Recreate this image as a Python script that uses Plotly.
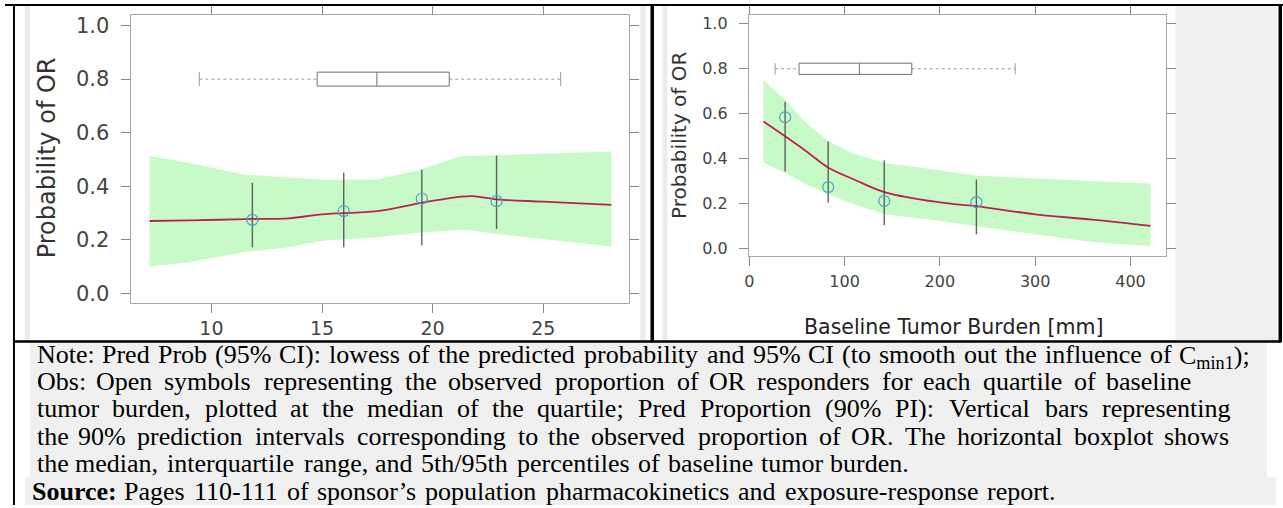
import re
import plotly.graph_objects as go

W, H = 1283, 508


def fx(px):
    return px / W


def fy(py):
    return 1 - py / H


# ---------------- data ----------------
# Left panel
L_grid = [7.2, 9.0, 11.5, 13.5, 15.0, 17.5, 19.5, 21.2, 21.8, 22.9, 25.0, 28.08]
L_upper = [0.514, 0.487, 0.443, 0.431, 0.424, 0.425, 0.462, 0.511, 0.514, 0.516, 0.522, 0.530]
L_lower = [0.100, 0.116, 0.154, 0.172, 0.196, 0.209, 0.227, 0.237, 0.234, 0.221, 0.203, 0.175]
L_mean = [0.270, 0.272, 0.277, 0.280, 0.295, 0.307, 0.338, 0.360, 0.363, 0.351, 0.342, 0.330]
L_obs_x = [11.85, 15.98, 19.51, 22.89]
L_obs_y = [0.274, 0.307, 0.354, 0.344]
L_pi_lo = [0.172, 0.172, 0.178, 0.240]
L_pi_hi = [0.413, 0.450, 0.462, 0.515]
L_box = [9.45, 14.78, 17.48, 20.75, 25.79]  # 5th, Q1, median, Q3, 95th
L_xticks = [10, 15, 20, 25]

# Right panel
R_grid = [14.9, 38, 60, 83.5, 110, 142.6, 200, 238, 300, 360, 421]
R_upper = [0.749, 0.660, 0.557, 0.476, 0.420, 0.380, 0.348, 0.325, 0.311, 0.299, 0.289]
R_lower = [0.380, 0.336, 0.285, 0.240, 0.196, 0.152, 0.122, 0.100, 0.063, 0.029, 0.010]
R_mean = [0.565, 0.498, 0.432, 0.358, 0.307, 0.250, 0.205, 0.188, 0.152, 0.128, 0.100]
R_obs_x = [37.6, 82.8, 141.6, 238.3]
R_obs_y = [0.584, 0.273, 0.211, 0.206]
R_pi_lo = [0.343, 0.204, 0.103, 0.063]
R_pi_hi = [0.653, 0.476, 0.392, 0.307]
R_box = [27.1, 52.2, 115.5, 170.5, 279.0]
R_xticks = [0, 100, 200, 300, 400]

Y_TICKS = [0.0, 0.2, 0.4, 0.6, 0.8, 1.0]
BOX_Y = 0.8

Y_TITLE = "Probability of OR"
X_TITLE_R = "Baseline Tumor Burden [mm]"

NOTE_LINES = [
    "Note: Pred Prob (95% CI): lowess of the predicted probability and 95% CI (to smooth out the influence of C<sub>min1</sub>);",
    "Obs: Open symbols representing the observed proportion of OR responders for each quartile of baseline",
    "tumor burden, plotted at the median of the quartile; Pred Proportion (90% PI): Vertical bars representing",
    "the 90% prediction intervals corresponding to the observed proportion of OR. The horizontal boxplot shows",
    "the median, interquartile range, and 5th/95th percentiles of baseline tumor burden.",
]
SOURCE_LINE = "<b>Source:</b> Pages 110-111 of sponsor\u2019s population pharmacokinetics and exposure-response report."

# ---------------- styling ----------------
BAND = "rgb(200,250,200)"
MEAN = "#b8234f"
OBS = "#4f9fcf"
BAR = "rgba(70,70,70,0.85)"
BOXC = "#707070"
WHISK = "#9a9a9a"
SANS = "DejaVu Sans"
SERIF = "Liberation Serif"

fig = go.Figure()


def add_panel(xa, ya, grid, up, lo, mean, ox, oy, plo, phi, box, box_h):
    fig.add_trace(go.Scatter(x=grid + grid[::-1], y=up + lo[::-1], fill="toself",
                             fillcolor=BAND, line=dict(width=0), mode="lines",
                             hoverinfo="skip", xaxis=xa, yaxis=ya, showlegend=False))
    fig.add_trace(go.Scatter(x=grid, y=mean, mode="lines", line=dict(color=MEAN, width=1.8, shape="spline"),
                             xaxis=xa, yaxis=ya, showlegend=False))
    fig.add_trace(go.Scatter(
        x=ox, y=oy, mode="markers",
        marker=dict(symbol="circle-open", size=11, color=OBS, line=dict(width=1.2, color=OBS)),
        error_y=dict(type="data", symmetric=False,
                     array=[h - y for h, y in zip(phi, oy)],
                     arrayminus=[y - l for l, y in zip(plo, oy)],
                     width=0, color=BAR, thickness=1.4),
        xaxis=xa, yaxis=ya, showlegend=False))
    p5, q1, med, q3, p95 = box
    fig.add_trace(go.Scatter(x=[p5, q1, None, q3, p95], y=[BOX_Y, BOX_Y, None, BOX_Y, BOX_Y],
                             mode="lines", line=dict(color=WHISK, width=1, dash="dot"),
                             xaxis=xa, yaxis=ya, showlegend=False))
    fig.add_trace(go.Scatter(x=[p5, p5, None, p95, p95],
                             y=[BOX_Y - box_h, BOX_Y + box_h, None, BOX_Y - box_h, BOX_Y + box_h],
                             mode="lines", line=dict(color=WHISK, width=1),
                             xaxis=xa, yaxis=ya, showlegend=False))
    fig.add_trace(go.Scatter(x=[q1, q3, q3, q1, q1, None, med, med],
                             y=[BOX_Y - box_h, BOX_Y - box_h, BOX_Y + box_h, BOX_Y + box_h, BOX_Y - box_h,
                                None, BOX_Y - box_h, BOX_Y + box_h],
                             mode="lines", line=dict(color=BOXC, width=1),
                             xaxis=xa, yaxis=ya, showlegend=False))


add_panel("x", "y", L_grid, L_upper, L_lower, L_mean, L_obs_x, L_obs_y, L_pi_lo, L_pi_hi, L_box, 0.026)
add_panel("x2", "y2", R_grid, R_upper, R_lower, R_mean, R_obs_x, R_obs_y, R_pi_lo, R_pi_hi, R_box, 0.025)

axis_common = dict(showline=True, linecolor="#a8a8a8", linewidth=1, mirror="ticks",
                   ticks="outside", tickcolor="#8a8a8a", tickwidth=1,
                   showgrid=False, zeroline=False, fixedrange=True)

fig.update_layout(
    width=W, height=H,
    margin=dict(l=0, r=0, t=0, b=0),
    paper_bgcolor="white", plot_bgcolor="white",
    showlegend=False,
    xaxis=dict(domain=[fx(126), fx(626.7)], anchor="y", range=[6.34, 28.89],
               tickvals=L_xticks, ticklen=9, ticklabelstandoff=0,
               tickfont=dict(family=SANS, size=19, color="#444"), **axis_common),
    yaxis=dict(domain=[fy(304), fy(14)], anchor="x", range=[-0.035, 1.04],
               tickvals=Y_TICKS, tickformat=".1f", ticklen=9, ticklabelstandoff=7,
               tickfont=dict(family=SANS, size=21, color="#444"), **axis_common),
    xaxis2=dict(domain=[fx(746.7), fx(1166)], anchor="y2", range=[-0.5, 437.7],
                tickvals=R_xticks, ticklen=9, ticklabelstandoff=2,
                tickfont=dict(family=SANS, size=16, color="#444"), **axis_common),
    yaxis2=dict(domain=[fy(257.3), fy(14)], anchor="x2", range=[-0.035, 1.04],
                tickvals=Y_TICKS, tickformat=".1f", ticklen=9, ticklabelstandoff=8,
                tickfont=dict(family=SANS, size=16, color="#444"), **axis_common),
)

shapes = []


def rect(x0, y0, x1, y1, color, layer="below"):
    shapes.append(dict(type="rect", xref="paper", yref="paper", x0=fx(x0), x1=fx(x1),
                       y0=fy(y1), y1=fy(y0), fillcolor=color, line=dict(width=0), layer=layer))


rect(20, 4, 25, 343, "#ebebeb")
rect(638, 4, 643, 343, "#ebebeb")
rect(660, 4, 665, 343, "#ebebeb")
rect(1175, 4, 1277, 343, "#f0f0f0")
rect(10, 344, 1283, 508, "white", layer="above")
rect(25, 344, 1266.7, 480, "#f0f0f0", layer="above")
rect(20, 480, 1276, 508, "#f0f0f0", layer="above")
rect(0, 3, 1283, 5, "black", layer="above")
rect(8, 3, 10, 508, "black", layer="above")
rect(8, 342, 1281, 344.5, "black", layer="above")
rect(648, 3, 651.5, 344, "black", layer="above")
rect(1278.5, 3, 1282, 344, "black", layer="above")
fig.update_layout(shapes=shapes)

ann = []
ann.append(dict(text=Y_TITLE, x=fx(41.7), y=fy(158), xref="paper", yref="paper", showarrow=False,
                xanchor="center", yanchor="middle",
                textangle=-90, font=dict(family=SANS, size=24, color="#333")))
ann.append(dict(text=Y_TITLE, x=fx(676.7), y=fy(136), xref="paper", yref="paper", showarrow=False,
                xanchor="center", yanchor="middle",
                textangle=-90, font=dict(family=SANS, size=20, color="#333")))
ann.append(dict(text=X_TITLE_R, x=fx(952), y=fy(329), xref="paper", yref="paper", showarrow=False,
                xanchor="center", yanchor="middle",
                font=dict(family=SANS, size=20.5, color="#222")))

# ---------------- justified note text (word placement with Times metrics) ----------------
TW = {' ': 250, '!': 333, '%': 833, '(': 333, ')': 333, ',': 250, '-': 333, '.': 250, '/': 278,
      ':': 278, ';': 278, '\u2019': 333, "'": 333}
for d in '0123456789':
    TW[d] = 500
TW.update({'A': 722, 'B': 667, 'C': 667, 'D': 722, 'E': 611, 'F': 556, 'G': 722, 'H': 722, 'I': 333,
           'J': 389, 'K': 722, 'L': 611, 'M': 889, 'N': 722, 'O': 722, 'P': 556, 'Q': 722, 'R': 667,
           'S': 556, 'T': 611, 'U': 722, 'V': 722, 'W': 944, 'X': 722, 'Y': 722, 'Z': 611,
           'a': 444, 'b': 500, 'c': 444, 'd': 500, 'e': 444, 'f': 333, 'g': 500, 'h': 500, 'i': 278,
           'j': 278, 'k': 500, 'l': 278, 'm': 778, 'n': 500, 'o': 500, 'p': 500, 'q': 500, 'r': 333,
           's': 389, 't': 278, 'u': 500, 'v': 500, 'w': 722, 'x': 500, 'y': 500, 'z': 444})
TWB = {'S': 556, 'o': 500, 'u': 556, 'r': 444, 'c': 444, 'e': 444, ':': 333}


def word_width(word):
    total = 0.0
    for m in re.finditer(r"<sub>(.*?)</sub>|<b>(.*?)</b>|([^<]+)", word):
        if m.group(1) is not None:
            total += 0.7 * sum(TW.get(c, 500) for c in m.group(1))
        elif m.group(2) is not None:
            total += sum(TWB.get(c, TW.get(c, 500)) for c in m.group(2))
        else:
            total += sum(TW.get(c, 500) for c in m.group(3))
    return total / 1000.0


REF_SIZE = 26.8
FONT_SIZE = 26
line_specs = [(30, 1251.7, 365.5), (30, 1193, 392.2), (30, 1233, 419.8), (30, 1230.7, 448.0),
              (30, 910, 474.7)]
all_lines = list(zip(NOTE_LINES, line_specs)) + [(SOURCE_LINE, (25, 1057, 503.0))]

for text, (xs, xe, base) in all_lines:
    words = text.split(" ")
    widths = [word_width(w) * REF_SIZE for w in words]
    gap = (xe - xs - sum(widths)) / max(len(words) - 1, 1)
    pos = xs
    n = len(words)
    for i, (w, wd) in enumerate(zip(words, widths)):
        yc = base - 0.3375 * FONT_SIZE
        if "<sub>" in w:
            yc += 1.8
        if i == 0:
            xa, xp = "left", pos
        elif i == n - 1:
            xa, xp = "right", pos + wd
        else:
            xa, xp = "center", pos + wd / 2
        ann.append(dict(text=w, x=fx(xp), y=fy(yc), xref="paper", yref="paper",
                        xanchor=xa, yanchor="middle", showarrow=False,
                        font=dict(family=SERIF, size=FONT_SIZE, color="black")))
        pos += wd + gap

fig.update_layout(annotations=ann)
fig.write_html("out.html")
